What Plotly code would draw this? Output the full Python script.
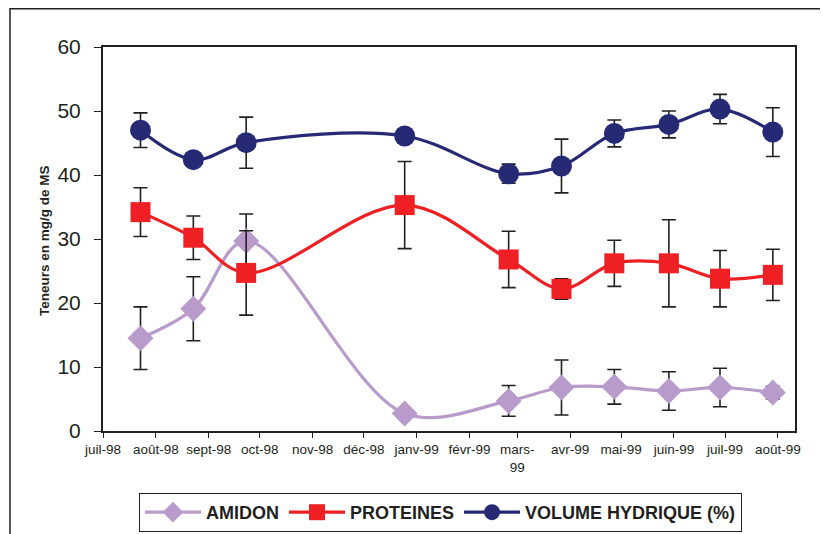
import plotly.graph_objects as go

dates = ["1998-07-23", "1998-08-23", "1998-09-23", "1998-12-25", "1999-02-24",
         "1999-03-27", "1999-04-27", "1999-05-29", "1999-06-28", "1999-07-29"]

amidon = [14.5, 19.1, 29.7, 2.75, 4.7, 6.8, 6.9, 6.25, 6.8, 6.0]
amidon_err = [4.9, 5.0, 4.2, 0.5, 2.4, 4.3, 2.7, 3.0, 3.0, 1.0]

proteines = [34.2, 30.2, 24.7, 35.3, 26.8, 22.2, 26.2, 26.2, 23.8, 24.4]
proteines_err = [3.8, 3.4, 6.6, 6.8, 4.4, 1.6, 3.6, 6.8, 4.4, 4.0]

volume = [47.0, 42.4, 45.05, 46.1, 40.2, 41.4, 46.5, 47.9, 50.3, 46.7]
volume_err = [2.7, 0.8, 4.0, 1.0, 1.5, 4.2, 2.1, 2.1, 2.3, 3.8]

tick_dates = ["1998-07-01", "1998-08-01", "1998-09-01", "1998-10-01", "1998-11-01",
              "1998-12-01", "1999-01-01", "1999-02-01", "1999-03-01", "1999-04-01",
              "1999-05-01", "1999-06-01", "1999-07-01", "1999-08-01"]
tick_text = ["juil-98", "août-98", "sept-98", "oct-98", "nov-98", "déc-98", "janv-99",
             "févr-99", "mars-<br>99", "avr-99", "mai-99", "juin-99", "juil-99", "août-99"]

black = "#231f20"
font = "Liberation Sans, Arial, sans-serif"

# page has an 8px body margin; figure is sized/placed to compensate
W, H = 820, 526

def err(vals):
    return dict(type="data", array=vals, visible=True, color=black,
                thickness=1.6, width=7)

fig = go.Figure()
fig.add_trace(go.Scatter(
    x=dates, y=amidon, name="AMIDON", mode="lines+markers",
    line=dict(color="#b89bcb", width=3.2, shape="spline"),
    marker=dict(symbol="diamond", size=20, color="#b89bcb"),
    error_y=err(amidon_err)))
fig.add_trace(go.Scatter(
    x=dates, y=proteines, name="PROTEINES", mode="lines+markers",
    line=dict(color="#ee2024", width=3.2, shape="spline"),
    marker=dict(symbol="square", size=20, color="#ee2024"),
    error_y=err(proteines_err)))
fig.add_trace(go.Scatter(
    x=dates, y=volume, name="VOLUME HYDRIQUE (%)", mode="lines+markers",
    line=dict(color="#262a75", width=3.2, shape="spline"),
    marker=dict(symbol="circle", size=21, color="#262a75"),
    error_y=err(volume_err)))

fig.update_layout(
    width=W, height=H,
    margin=dict(l=95, r=33, t=39, b=103, autoexpand=False),
    paper_bgcolor="white", plot_bgcolor="white",
    font=dict(family=font, color=black),
    showlegend=True,
    legend=dict(orientation="h", xref="container", yref="container",
                x=131 / W, y=(H - 485) / H, xanchor="left", yanchor="top",
                bgcolor="white", bordercolor=black, borderwidth=1,
                font=dict(size=18, family=font, color=black, weight="bold"),
                itemwidth=56, tracegroupgap=0),
    xaxis=dict(type="date", range=["1998-07-01", "1999-08-11"], automargin=False,
               tickmode="array", tickvals=tick_dates, ticktext=tick_text,
               ticks="outside", ticklen=5, tickwidth=1.2, tickcolor=black,
               showline=True, linecolor=black, linewidth=2, mirror=True,
               showgrid=False, zeroline=False,
               tickfont=dict(size=13.5, color=black)),
    yaxis=dict(range=[0, 60], tickmode="linear", tick0=0, dtick=10, automargin=False,
               ticks="outside", ticklen=7, tickwidth=1.2, tickcolor=black,
               showline=True, linecolor=black, linewidth=2, mirror=True,
               showgrid=False, zeroline=False, ticklabelstandoff=9,
               tickfont=dict(size=21, color=black)),
    annotations=[dict(text="<b>Teneurs en mg/g de MS</b>", x=-0.0838, y=0.495,
                      xref="paper", yref="paper", textangle=-90, showarrow=False,
                      font=dict(size=13.5, color=black), xanchor="center", yanchor="middle")],
    shapes=[dict(type="rect", xref="paper", yref="paper",
                 x0=-0.1344, y0=-1.0, x1=2.0, y1=1.0996,
                 line=dict(color=black, width=1.5), layer="below")],
)

fig.write_html("out.html")
